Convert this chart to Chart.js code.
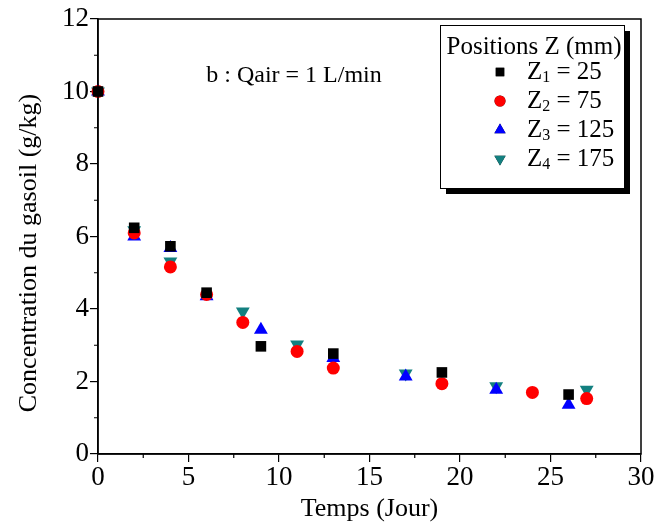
<!DOCTYPE html>
<html>
<head>
<meta charset="utf-8">
<script src="https://cdn.jsdelivr.net/npm/chart.js@4.4.1/dist/chart.umd.min.js"></script>
<style>
  html, body { margin: 0; padding: 0; background: #fff; }
  #wrap { width: 659px; height: 529px; }
</style>
</head>
<body>
<div id="wrap"><canvas id="concChart" width="659" height="529"></canvas></div>
<script>
// temps (jour) for each series
const daysZ1 = [0, 2, 4, 6, 9, 13, 19, 26];
const daysZ2 = [0, 2, 4, 6, 8, 11, 13, 19, 24, 27];
const daysZ3 = [0, 2, 4, 6, 9, 13, 17, 22, 26];
const daysZ4 = [0, 2, 4, 8, 11, 17, 22, 27];

// concentration du gasoil (g/kg)
const concZ1 = [10, 6.24, 5.73, 4.45, 2.97, 2.77, 2.25, 1.64];
const concZ2 = [10, 6.1, 5.16, 4.4, 3.63, 2.83, 2.37, 1.94, 1.70, 1.53];
const concZ3 = [10, 6.0, 5.68, 4.35, 3.43, 2.65, 2.14, 1.77, 1.36];
const concZ4 = [10, 6.17, 5.31, 3.93, 3.02, 2.22, 1.87, 1.77];

const seriesNames = ['Z1 = 25', 'Z2 = 75', 'Z3 = 125', 'Z4 = 175'];
const xTicks = [0, 5, 10, 15, 20, 25, 30];
const yTicks = [0, 2, 4, 6, 8, 10, 12];

const serif = '"Liberation Serif", "DejaVu Serif", serif';

function toPoints(xs, ys) {
    return xs.map((x, i) => ({ x: x, y: ys[i] }));
}

// minor ticks, frame, y title, annotation and the boxed legend
const decorPlugin = {
    id: 'decor',
    afterDraw(chart) {
        const ctx = chart.ctx;
        const a = chart.chartArea;
        const xs = chart.scales.x;
        const ys = chart.scales.y;
        ctx.save();
        ctx.strokeStyle = '#000';
        ctx.lineWidth = 1.5;
        ctx.strokeRect(a.left, a.top, a.right - a.left, a.bottom - a.top);

        ctx.lineWidth = 1.2;
        ctx.beginPath();
        for (let v = 2.5; v < 30; v += 5) {
            const px = xs.getPixelForValue(v);
            ctx.moveTo(px, a.bottom);
            ctx.lineTo(px, a.bottom + 4);
        }
        for (let v = 1; v < 12; v += 2) {
            const py = ys.getPixelForValue(v);
            ctx.moveTo(a.left, py);
            ctx.lineTo(a.left - 4, py);
        }
        ctx.stroke();

        ctx.fillStyle = '#000';
        ctx.textAlign = 'center';
        ctx.textBaseline = 'middle';

        ctx.save();
        ctx.translate(29, 253);
        ctx.rotate(-Math.PI / 2);
        ctx.font = '26px ' + serif;
        ctx.fillText('Concentration du gasoil (g/kg)', 0, 0);
        ctx.restore();

        ctx.font = '24px ' + serif;
        ctx.fillText('b : Qair = 1 L/min', 294, 76);

        // legend box with shadow
        const bx = 440, by = 25, bw = 184, bh = 163;
        ctx.fillStyle = '#000';
        ctx.fillRect(bx + 6, by + 6, bw, bh);
        ctx.fillStyle = '#fff';
        ctx.fillRect(bx, by, bw, bh);
        ctx.lineWidth = 1;
        ctx.strokeRect(bx + 0.5, by + 0.5, bw, bh);

        ctx.fillStyle = '#000';
        ctx.font = '25px ' + serif;
        ctx.textAlign = 'center';
        ctx.fillText('Positions Z (mm)', bx + bw / 2 + 2, 47);

        const rowY = [72, 101, 130, 159];
        chart.data.datasets.forEach((ds, i) => {
            Chart.helpers.drawPoint(ctx, {
                pointStyle: ds.pointStyle,
                rotation: ds.rotation || 0,
                radius: ds.legendRadius,
                borderWidth: 0
            }, 500, rowY[i]);
            ctx.fillStyle = ds.backgroundColor;
            ctx.fill();

            const parts = seriesNames[i].split(' = ');
            ctx.fillStyle = '#000';
            ctx.textAlign = 'left';
            ctx.font = '25px ' + serif;
            let tx = 527;
            ctx.fillText('Z', tx, rowY[i]);
            tx += ctx.measureText('Z').width;
            ctx.font = '16px ' + serif;
            ctx.fillText(parts[0].slice(1), tx, rowY[i] + 6);
            tx += ctx.measureText(parts[0].slice(1)).width;
            ctx.font = '25px ' + serif;
            ctx.fillText(' = ' + parts[1], tx, rowY[i]);
        });
        ctx.restore();
    }
};

const ctx = document.getElementById('concChart').getContext('2d');

new Chart(ctx, {
    type: 'scatter',
    data: {
        datasets: [
            {
                label: seriesNames[0],
                data: toPoints(daysZ1, concZ1),
                pointStyle: 'rect',
                pointRadius: 7.5,
                legendRadius: 6,
                backgroundColor: '#000000',
                borderWidth: 0,
                clip: false
            },
            {
                label: seriesNames[1],
                data: toPoints(daysZ2, concZ2),
                pointStyle: 'circle',
                pointRadius: 6.5,
                legendRadius: 5.5,
                backgroundColor: '#ff0000',
                borderWidth: 0,
                clip: false
            },
            {
                label: seriesNames[2],
                data: toPoints(daysZ3, concZ3),
                pointStyle: 'triangle',
                pointRadius: 8,
                legendRadius: 6.5,
                backgroundColor: '#0000ff',
                borderWidth: 0,
                clip: false
            },
            {
                label: seriesNames[3],
                data: toPoints(daysZ4, concZ4),
                pointStyle: 'triangle',
                rotation: 180,
                pointRotation: 180,
                pointRadius: 8,
                legendRadius: 6.5,
                backgroundColor: '#138080',
                borderWidth: 0,
                clip: false
            }
        ]
    },
    options: {
        responsive: false,
        animation: false,
        layout: { padding: { top: 19, right: 18, left: 0, bottom: 0 } },
        scales: {
            x: {
                type: 'linear',
                min: 0,
                max: 30,
                afterFit(scale) { scale.height = 75; },
                afterBuildTicks(scale) { scale.ticks = xTicks.map(v => ({ value: v })); },
                grid: { display: true, drawOnChartArea: false, color: '#000', tickLength: 8, lineWidth: 1.2 },
                border: { display: true, color: '#000', width: 1.5 },
                ticks: { color: '#000', font: { family: serif, size: 27 }, padding: 0, maxRotation: 0 },
                title: { display: true, text: 'Temps (Jour)', color: '#000', font: { family: serif, size: 26 }, padding: { top: -6 } }
            },
            y: {
                type: 'linear',
                min: 0,
                max: 12,
                afterFit(scale) { scale.width = 98; },
                afterBuildTicks(scale) { scale.ticks = yTicks.map(v => ({ value: v })); },
                grid: { display: true, drawOnChartArea: false, color: '#000', tickLength: 8, lineWidth: 1.2 },
                border: { display: true, color: '#000', width: 1.5 },
                ticks: { color: '#000', font: { family: serif, size: 27 }, padding: 1 },
                title: { display: false }
            }
        },
        plugins: {
            legend: { display: false },
            tooltip: { enabled: false }
        }
    },
    plugins: [decorPlugin]
});
</script>
</body>
</html>
